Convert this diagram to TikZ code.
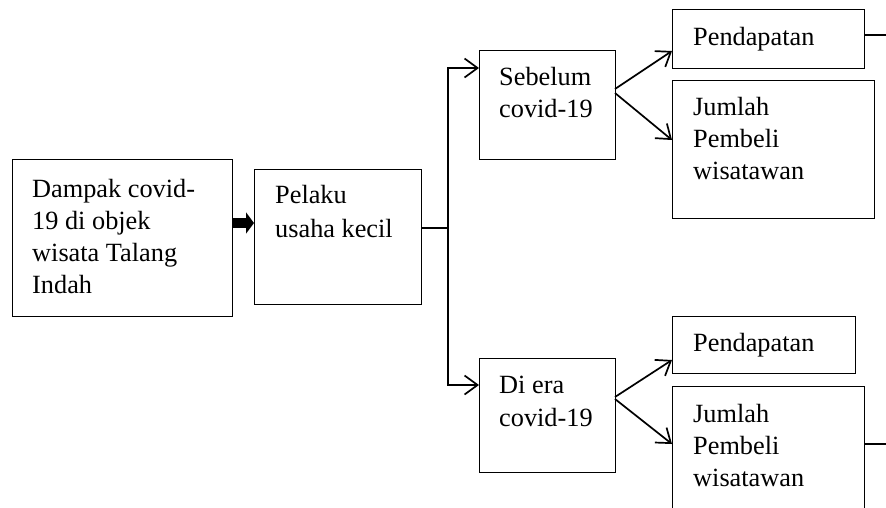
\documentclass[tikz,border=0pt]{standalone}
\usepackage{fontspec}
\setmainfont{Liberation Serif}
\usetikzlibrary{arrows.meta}
\begin{document}
\begin{tikzpicture}[x=1pt,y=-1pt,
  box/.style={draw, line width=1pt, inner sep=0pt, outer sep=0pt, anchor=north west},
  txt/.style={anchor=base west, inner sep=0pt, font=\fontsize{26.3}{31}\selectfont},
  conn/.style={line width=1.7pt},
  arr/.style={line width=1.7pt, -{Straight Barb[length=13pt,width=19pt,line width=1.7pt]}},
  fat/.style={line width=10pt, -{Triangle[length=8pt,width=21pt]}}]
\clip (0,0) rectangle (886,507);
\fill[white] (0,0) rectangle (886,507);
% boxes
\node[box, minimum width=220pt, minimum height=157pt] (b1) at (12,159) {};
\node[box, minimum width=167pt, minimum height=135pt] (b2) at (254,169) {};
\node[box, minimum width=136pt, minimum height=109pt] (s) at (479,50) {};
\node[box, minimum width=136pt, minimum height=114pt] (d) at (479,358) {};
\node[box, minimum width=192pt, minimum height=59pt] (p1) at (672,9) {};
\node[box, minimum width=202pt, minimum height=138pt] (j1) at (672,80) {};
\node[box, minimum width=183pt, minimum height=57pt] (p2) at (672,316) {};
\node[box, minimum width=192pt, minimum height=160pt] (j2) at (672,386) {};
% texts
\node[txt] (b1a) at (32,197) {Dampak covid-};
\node[txt] (b1b) at (32,229) {19 di objek};
\node[txt] (b1c) at (32,261) {wisata Talang};
\node[txt] (b1d) at (32,293) {Indah};
\node[txt] (b2a) at (275,203) {Pelaku};
\node[txt] (b2b) at (275,237) {usaha kecil};
\node[txt] (sa) at (499,85) {Sebelum};
\node[txt] (sb) at (499,117) {covid-19};
\node[txt] (da) at (499,393) {Di era};
\node[txt] (db) at (499,426) {covid-19};
\node[txt] (p1a) at (693,45) {Pendapatan};
\node[txt] (j1a) at (693,115) {Jumlah};
\node[txt] (j1b) at (693,147) {Pembeli};
\node[txt] (j1c) at (693,179) {wisatawan};
\node[txt] (p2a) at (693,351) {Pendapatan};
\node[txt] (j2a) at (693,422) {Jumlah};
\node[txt] (j2b) at (693,454) {Pembeli};
\node[txt] (j2c) at (693,486) {wisatawan};
% connectors
\coordinate (j) at (448,228);
\coordinate (e1) at (886,35);
\coordinate (e2) at (886,444);
\draw[fat] ([yshift=-64pt]b1.north east) -- ([yshift=-54pt]b2.north west);
\draw[conn] ([yshift=-59pt]b2.north east) -- (j);
\draw[arr] (j) |- ([yshift=-18pt]s.north west);
\draw[arr] (j) |- ([yshift=-27pt]d.north west);
\draw[arr] ([yshift=-39pt]s.north east) -- ([yshift=-42pt]p1.north west);
\draw[arr] ([yshift=-43pt]s.north east) -- ([yshift=-60pt]j1.north west);
\draw[arr] ([yshift=-39pt]d.north east) -- ([yshift=-44pt]p2.north west);
\draw[arr] ([yshift=-41pt]d.north east) -- ([yshift=-58pt]j2.north west);
\draw[conn] ([yshift=-26pt]p1.north east) -- (e1);
\draw[conn] ([yshift=-58pt]j2.north east) -- (e2);
\end{tikzpicture}
\end{document}
